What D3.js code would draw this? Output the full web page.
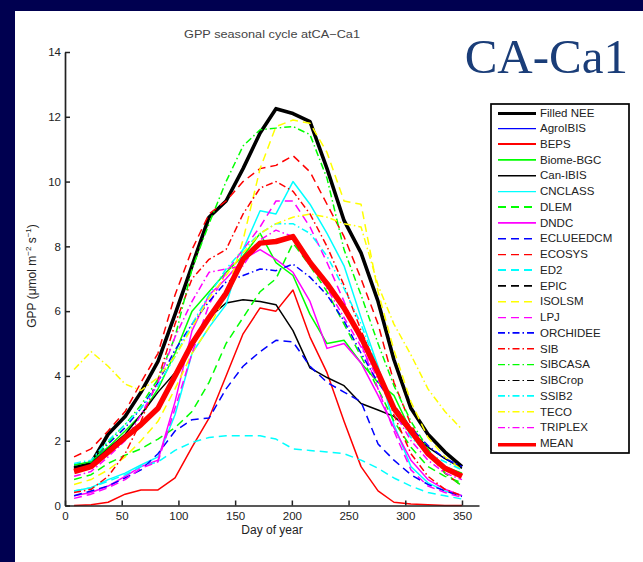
<!DOCTYPE html>
<html>
<head>
<meta charset="utf-8">
<script src="https://cdn.jsdelivr.net/npm/d3@7"></script>
<style>
  html, body { margin: 0; padding: 0; background: #000050; }
  svg { display: block; }
</style>
</head>
<body>
<script>
// semi-monthly sample days
const days = [8, 23, 38, 53, 67, 82, 97, 112, 127, 142, 157, 172, 186, 201, 216, 231, 246, 261, 276, 290, 305, 320, 335, 350];

// GPP (umol m-2 s-1)
const filledNEE = [1.15, 1.3, 2.2, 2.75, 3.5, 4.45, 5.9, 7.4, 8.9, 9.4, 10.4, 11.5, 12.25, 12.1, 11.85, 10.4, 8.8, 7.8, 6.3, 4.5, 3.0, 2.2, 1.65, 1.2];
const agroIBIS = []; // no output at this site
const beps = [0.0, 0.02, 0.1, 0.35, 0.48, 0.48, 0.85, 1.8, 2.7, 4.0, 5.3, 6.1, 6.0, 6.65, 5.2, 4.1, 2.6, 1.2, 0.45, 0.1, 0.05, 0.02, 0.0, 0.0];
const biomeBGC = [1.25, 1.35, 1.8, 2.3, 2.8, 3.6, 4.7, 6.0, 6.6, 7.2, 7.7, 8.4, 7.5, 7.1, 5.9, 5.0, 5.1, 4.4, 3.8, 3.4, 2.3, 1.6, 1.2, 1.0];
const canIBIS = [1.2, 1.3, 1.75, 2.2, 2.8, 3.5, 4.1, 4.9, 5.8, 6.25, 6.35, 6.3, 6.2, 5.4, 4.25, 3.95, 3.7, 3.15, 2.95, 2.75, 2.3, 1.8, 1.45, 1.15];
const cnclass = [0.45, 0.55, 0.8, 1.0, 1.25, 1.5, 2.8, 4.7, 5.5, 6.2, 7.9, 9.1, 9.0, 10.0, 9.3, 8.4, 7.4, 5.8, 4.3, 2.5, 1.2, 0.7, 0.45, 0.3];
const dlem = [0.8, 0.95, 1.3, 1.55, 1.75, 2.05, 2.4, 2.9, 3.8, 5.0, 5.8, 6.6, 7.0, 8.1, 7.4, 6.6, 5.6, 4.6, 3.6, 2.6, 1.8, 1.2, 0.9, 0.7];
const dndc = [0.3, 0.4, 0.6, 0.9, 1.2, 1.4, 3.2, 5.4, 6.5, 7.0, 7.6, 7.9, 7.6, 7.2, 6.3, 4.85, 5.0, 4.4, 3.4, 2.4, 1.4, 0.8, 0.5, 0.3];
const eclueedcm = [0.3, 0.45, 0.6, 0.85, 1.1, 1.6, 2.3, 2.65, 2.7, 3.6, 4.3, 4.75, 5.1, 5.05, 4.3, 3.8, 3.5, 3.2, 1.9, 1.4, 0.95, 0.65, 0.45, 0.28];
const ecosys = [1.5, 1.75, 2.3, 2.9, 3.8, 4.7, 6.5, 7.9, 9.0, 9.4, 10.0, 10.4, 10.5, 10.8, 10.3, 9.3, 8.3, 7.0, 5.6, 3.8, 2.5, 1.6, 1.0, 0.6];
const ed2 = [0.45, 0.55, 0.75, 0.95, 1.2, 1.35, 1.7, 1.95, 2.1, 2.15, 2.15, 2.15, 2.05, 1.75, 1.7, 1.65, 1.6, 1.4, 1.15, 0.85, 0.6, 0.4, 0.3, 0.2];
const epic = []; // no output at this site
const isolsm = [0.65, 0.8, 1.1, 1.5, 2.0, 2.6, 3.6, 4.7, 5.5, 6.5, 8.2, 10.4, 11.7, 11.9, 11.8, 10.9, 9.4, 9.3, 6.6, 4.8, 3.2, 2.1, 1.5, 1.1];
const lpj = [0.22, 0.35, 0.55, 0.8, 1.15, 1.35, 3.0, 4.7, 6.2, 7.2, 7.9, 8.6, 9.4, 9.4, 8.6, 7.5, 6.3, 5.0, 3.6, 2.3, 1.1, 0.6, 0.4, 0.25];
const orchidee = [1.25, 1.35, 1.9, 2.4, 3.0, 3.8, 4.8, 5.6, 6.3, 6.9, 7.1, 7.3, 7.25, 7.45, 7.05, 6.5, 5.7, 4.7, 3.8, 3.1, 2.4, 1.85, 1.45, 1.2];
const sib = [0.4, 0.5, 0.9, 1.6, 2.6, 3.9, 5.6, 7.0, 7.6, 7.9, 9.0, 9.8, 10.0, 9.7, 9.0, 8.0, 6.8, 5.4, 4.2, 2.8, 1.6, 0.9, 0.5, 0.3];
const sibcasa = [1.25, 1.35, 1.95, 2.5, 3.1, 3.9, 5.2, 7.3, 8.7, 10.0, 11.1, 11.6, 11.65, 11.7, 11.45, 10.1, 7.9, 6.5, 5.0, 3.7, 2.6, 1.75, 1.0, 0.6];
const sibcrop = []; // no output at this site
const ssib2 = [1.3, 1.4, 2.0, 2.5, 3.0, 3.7, 4.6, 5.6, 6.5, 7.3, 7.9, 8.4, 8.7, 8.7, 8.4, 7.7, 6.7, 5.6, 4.2, 3.0, 2.1, 1.6, 1.35, 1.1];
const teco = [4.2, 4.75, 4.3, 3.75, 3.55, 3.95, 4.6, 5.5, 6.4, 7.1, 7.8, 8.4, 8.7, 8.9, 9.0, 8.9, 8.7, 8.6, 6.8, 5.6, 4.65, 3.6, 2.9, 2.35];
const triplex = [0.9, 1.05, 1.5, 2.0, 2.8, 3.8, 5.2, 6.3, 7.2, 7.3, 7.4, 8.2, 8.5, 8.3, 7.6, 6.7, 5.8, 4.9, 3.9, 2.9, 2.0, 1.4, 1.0, 0.8];
const mean = [1.05, 1.2, 1.65, 2.1, 2.5, 3.0, 4.0, 5.0, 5.8, 6.55, 7.6, 8.1, 8.15, 8.3, 7.5, 6.85, 6.1, 5.2, 4.1, 3.0, 2.3, 1.6, 1.15, 0.9];

const xTicks = [0, 50, 100, 150, 200, 250, 300, 350];
const yTicks = [0, 2, 4, 6, 8, 10, 12, 14];

const names = ["Filled NEE", "AgroIBIS", "BEPS", "Biome-BGC", "Can-IBIS", "CNCLASS", "DLEM", "DNDC",
  "ECLUEEDCM", "ECOSYS", "ED2", "EPIC", "ISOLSM", "LPJ", "ORCHIDEE", "SIB", "SIBCASA", "SIBCrop",
  "SSIB2", "TECO", "TRIPLEX", "MEAN"];
const values = [filledNEE, agroIBIS, beps, biomeBGC, canIBIS, cnclass, dlem, dndc, eclueedcm, ecosys,
  ed2, epic, isolsm, lpj, orchidee, sib, sibcasa, sibcrop, ssib2, teco, triplex, mean];

// matlab line specs
const DASH = "8,5";
const DASHDOT = "7,3,1.5,3";
const styles = {
  "Filled NEE": { color: "#000000", dash: null, width: 3.6 },
  "AgroIBIS": { color: "#0000ff", dash: null, width: 1.5 },
  "BEPS": { color: "#ff0000", dash: null, width: 1.5 },
  "Biome-BGC": { color: "#00ff00", dash: null, width: 1.5 },
  "Can-IBIS": { color: "#000000", dash: null, width: 1.5 },
  "CNCLASS": { color: "#00ffff", dash: null, width: 1.5 },
  "DLEM": { color: "#00ff00", dash: DASH, width: 1.5 },
  "DNDC": { color: "#ff00ff", dash: null, width: 1.5 },
  "ECLUEEDCM": { color: "#0000ff", dash: DASH, width: 1.5 },
  "ECOSYS": { color: "#ff0000", dash: DASH, width: 1.5 },
  "ED2": { color: "#00ffff", dash: DASH, width: 1.5 },
  "EPIC": { color: "#000000", dash: DASH, width: 1.5 },
  "ISOLSM": { color: "#ffff00", dash: DASH, width: 1.5 },
  "LPJ": { color: "#ff00ff", dash: DASH, width: 1.5 },
  "ORCHIDEE": { color: "#0000ff", dash: DASHDOT, width: 1.5 },
  "SIB": { color: "#ff0000", dash: DASHDOT, width: 1.5 },
  "SIBCASA": { color: "#00ff00", dash: DASHDOT, width: 1.5 },
  "SIBCrop": { color: "#000000", dash: DASHDOT, width: 1.5 },
  "SSIB2": { color: "#00ffff", dash: DASHDOT, width: 1.5 },
  "TECO": { color: "#ffff00", dash: DASHDOT, width: 1.5 },
  "TRIPLEX": { color: "#ff00ff", dash: DASHDOT, width: 1.5 },
  "MEAN": { color: "#ff0000", dash: null, width: 5.5 }
};

const width = 643;
const height = 562;
const font = "'Liberation Sans', Arial, Helvetica, sans-serif";

let svg = d3.select("body")
  .append("svg")
  .attr("width", width)
  .attr("height", height);

// soften the lines a little, the original is a scaled bitmap
svg.append("defs")
  .append("filter")
  .attr("id", "soft")
  .attr("filterUnits", "userSpaceOnUse")
  .attr("x", 0).attr("y", 0)
  .attr("width", width).attr("height", height)
  .append("feGaussianBlur")
  .attr("stdDeviation", 0.35);

// slide background
svg.append("rect").attr("width", width).attr("height", height).attr("fill", "#000050");
svg.append("rect")
  .attr("x", 15).attr("y", 11)
  .attr("width", width - 15).attr("height", height - 11)
  .attr("fill", "#ffffff");

const x = d3.scaleLinear().domain([0, 365]).range([65, 479]);
const y = d3.scaleLinear().domain([0, 14]).range([505.5, 52]);

let g = svg.append("g").attr("class", "plot").attr("filter", "url(#soft)");

const line = d3.line()
  .x((d, i) => x(days[i]))
  .y(d => y(d));

g.selectAll(".series")
  .data(names.map((n, i) => ({ name: n, values: values[i] })).filter(s => s.values.length > 0))
  .enter()
  .append("path")
  .attr("class", "series")
  .attr("d", d => line(d.values))
  .attr("fill", "none")
  .attr("stroke", d => styles[d.name].color)
  .attr("stroke-width", d => styles[d.name].width)
  .attr("stroke-dasharray", d => styles[d.name].dash)
  .attr("stroke-linejoin", "round");

// axes (matlab style, ticks inward, no box)
let xAxis = svg.append("g")
  .attr("transform", "translate(0," + y(0) + ")")
  .call(d3.axisBottom(x).tickValues(xTicks).tickSizeInner(-5).tickSizeOuter(0).tickPadding(6));
let yAxis = svg.append("g")
  .attr("transform", "translate(" + x(0) + ",0)")
  .call(d3.axisLeft(y).tickValues(yTicks).tickSizeInner(-5).tickSizeOuter(0).tickPadding(4));

[xAxis, yAxis].forEach(a => {
  a.select(".domain").attr("stroke", "#222").attr("stroke-width", 1.7);
  a.selectAll(".tick line").attr("stroke", "#222").attr("stroke-width", 1.5);
  a.selectAll(".tick text")
    .attr("font-family", font)
    .attr("font-size", 11.5)
    .attr("fill", "#222");
});

// labels
svg.append("text")
  .attr("x", 272).attr("y", 38)
  .attr("text-anchor", "middle")
  .attr("font-family", font).attr("font-size", 11).attr("fill", "#444")
  .attr("textLength", 176).attr("lengthAdjust", "spacingAndGlyphs")
  .text("GPP seasonal cycle atCA\u2212Ca1");

svg.append("text")
  .attr("x", 272).attr("y", 534)
  .attr("text-anchor", "middle")
  .attr("font-family", font).attr("font-size", 12).attr("fill", "#222")
  .text("Day of year");

let ylab = svg.append("text")
  .attr("transform", "translate(36,276) rotate(-90)")
  .attr("text-anchor", "middle")
  .attr("font-family", font).attr("font-size", 12).attr("fill", "#222");
ylab.append("tspan").text("GPP (\u03bcmol m");
ylab.append("tspan").attr("dy", -5).attr("font-size", 8).text("\u22122");
ylab.append("tspan").attr("dy", 5).text(" s");
ylab.append("tspan").attr("dy", -5).attr("font-size", 8).text("\u22121");
ylab.append("tspan").attr("dy", 5).text(")");

svg.append("text")
  .attr("x", 628).attr("y", 73)
  .attr("text-anchor", "end")
  .attr("font-family", "'Liberation Serif', 'Times New Roman', serif")
  .attr("font-size", 49)
  .attr("fill", "#1a3d78")
  .text("CA-Ca1");

// legend
let legend = svg.append("g").attr("class", "legend");
legend.append("rect")
  .attr("x", 491).attr("y", 104)
  .attr("width", 138).attr("height", 349)
  .attr("fill", "#ffffff")
  .attr("stroke", "#000")
  .attr("stroke-width", 1.7);

let item = legend.selectAll(".item")
  .data(names)
  .enter()
  .append("g")
  .attr("class", "item")
  .attr("transform", (d, i) => "translate(0," + (112.5 + i * 15.74) + ")");

item.append("line")
  .attr("x1", 498).attr("x2", 536)
  .attr("stroke", d => styles[d].color)
  .attr("stroke-width", d => Math.min(styles[d].width * 1.35, 7))
  .attr("stroke-dasharray", d => styles[d].dash)
  .attr("filter", "url(#soft)");

item.append("text")
  .attr("x", 540).attr("y", 0)
  .attr("dy", "0.35em")
  .attr("font-family", font).attr("font-size", 11.5).attr("fill", "#222")
  .text(d => d);
</script>
</body>
</html>
